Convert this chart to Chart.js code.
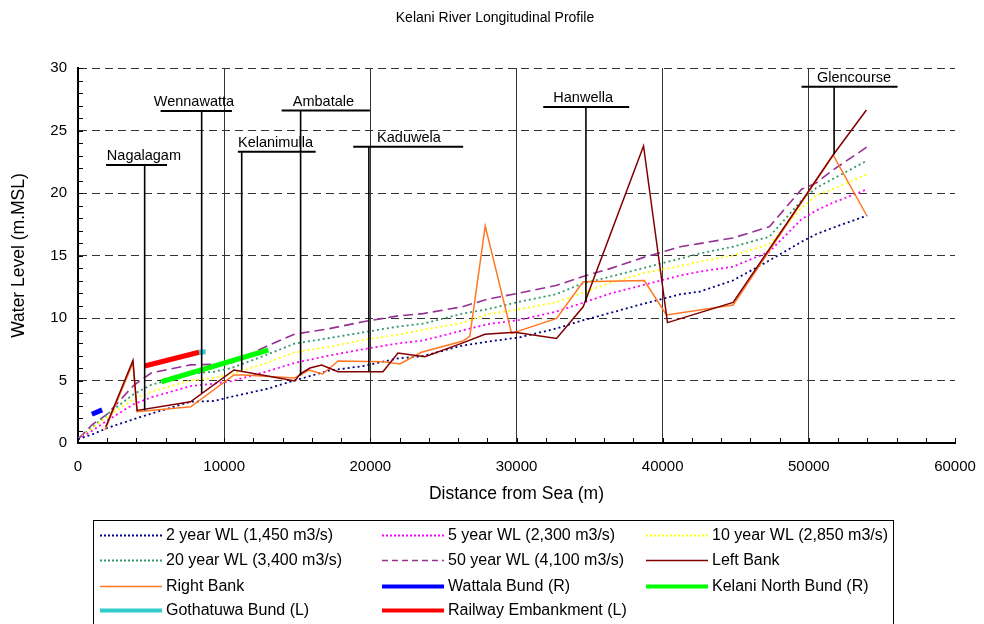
<!DOCTYPE html>
<html>
<head>
<meta charset="utf-8">
<script src="https://cdn.jsdelivr.net/npm/chart.js@4.4.0/dist/chart.umd.min.js"></script>
<style>
  html, body { margin: 0; padding: 0; background: #ffffff; }
  #wrap { width: 984px; height: 624px; }
</style>
</head>
<body>
<div id="wrap"><canvas id="profile" width="984" height="624"></canvas></div>
<script>
// Chainage (m from sea) of the modelled water-level sections
const chainageWL = [0, 1000, 2000, 3800, 5000, 7700, 9300, 10500, 13000, 14800, 17200, 19500, 21800, 23600, 26300, 28000, 30200, 32700, 34500, 36400, 38700, 41200, 42500, 44800, 47300, 49500, 50500, 51600, 54000];

// Flood water levels (m MSL) for each return period
const wl2yr  = [0.3, 0.7, 1.2, 1.9, 2.35, 3.3, 3.36, 3.7, 4.35, 5.0, 5.8, 6.15, 6.75, 6.95, 7.8, 8.1, 8.45, 9.15, 9.8, 10.4, 11.15, 11.9, 12.1, 13.0, 14.6, 16.1, 16.7, 17.2, 18.2];
const wl5yr  = [0.3, 1.0, 1.8, 3.1, 3.65, 4.55, 4.75, 4.95, 5.75, 6.4, 7.0, 7.5, 7.95, 8.2, 9.0, 9.5, 9.85, 10.5, 11.2, 11.95, 12.65, 13.4, 13.7, 14.1, 15.3, 17.9, 18.6, 19.2, 20.3];
const wl10yr = [0.3, 1.2, 2.1, 3.5, 4.1, 5.0, 5.2, 5.5, 6.45, 7.25, 7.7, 8.25, 8.65, 9.05, 9.6, 10.3, 10.7, 11.25, 12.0, 12.8, 13.6, 14.15, 14.5, 15.0, 15.9, 18.8, 19.8, 20.3, 21.5];
const wl20yr = [0.3, 1.3, 2.3, 3.9, 4.65, 5.55, 5.7, 6.0, 7.1, 7.95, 8.4, 8.85, 9.3, 9.55, 10.35, 10.7, 11.3, 11.9, 12.75, 13.3, 14.0, 14.75, 15.15, 15.7, 16.5, 19.4, 20.4, 21.1, 22.6];
const wl50yr = [0.3, 1.5, 2.3, 4.6, 5.6, 6.25, 6.3, 6.4, 7.8, 8.7, 9.15, 9.7, 10.15, 10.35, 10.9, 11.5, 12.0, 12.6, 13.3, 13.95, 14.85, 15.7, 15.95, 16.4, 17.3, 20.3, 20.8, 21.8, 23.7];

// River bank levels
const leftBankX  = [1900, 3760, 4040, 7700, 10670, 11350, 14840, 15190, 15870, 16670, 17790, 20860, 21890, 23730, 26240, 27840, 29890, 32740, 34560, 38690, 40330, 44820, 51660, 53940];
const leftBankY  = [1.3, 6.6, 2.6, 3.3, 5.84, 5.7, 4.96, 5.52, 6.0, 6.24, 5.7, 5.7, 7.2, 6.9, 7.97, 8.7, 8.85, 8.37, 10.9, 23.76, 9.63, 11.25, 23.04, 26.64];
const rightBankX = [1850, 3760, 4040, 7710, 10670, 11350, 14840, 15800, 16730, 17800, 20880, 22020, 23500, 26350, 26810, 27860, 29660, 32740, 34560, 38740, 40260, 44820, 51660, 53940];
const rightBankY = [1.04, 6.4, 2.5, 2.9, 5.44, 5.44, 5.2, 5.84, 5.52, 6.56, 6.5, 6.32, 7.26, 8.16, 8.56, 17.36, 8.77, 9.97, 12.9, 13.0, 10.24, 11.04, 23.04, 18.24];

// Flood protection works
const wattalaX = [950, 1650],   wattalaY = [2.3, 2.65];
const kelaniNorthX = [5700, 13020], kelaniNorthY = [4.9, 7.44];
const gothatuwaX = [8280, 8730], gothatuwaY = [7.26, 7.3];
const railwayX = [4560, 8280],  railwayY = [6.16, 7.26];

// Gauging / reference stations along the river
const stationNames   = ['Nagalagam', 'Wennawatta', 'Kelanimulla', 'Ambatale', 'Kaduwela', 'Hanwella', 'Glencourse'];
const stationX       = [4560, 8460, 11200, 15230, 19900, 34750, 51730];
const stationBase    = [2.6, 4.0, 5.8, 5.4, 5.7, 11.3, 23.1];
const stationTop     = [22.24, 26.56, 23.3, 26.6, 23.7, 26.88, 28.5];
const stationLineFrom = [1920, 5650, 10940, 13930, 18830, 31830, 49500];
const stationLineTo   = [6090, 10530, 16260, 19970, 26350, 37710, 56070];
const stationTextX    = [4510, 7930, 13510, 16790, 22640, 34560, 53090];

// Axis ticks
const xTicks = [0, 10000, 20000, 30000, 40000, 50000, 60000];
const yTicks = [0, 5, 10, 15, 20, 25, 30];

const chartTitle = 'Kelani River Longitudinal Profile';
const FONT = '"Liberation Sans", Arial, sans-serif';

const pts = (xs, ys) => xs.map((x, i) => ({ x: x, y: ys[i] }));

function series(label, xs, ys, color, width, dash, order, legendWidth) {
  return {
    label: label,
    data: pts(xs, ys),
    showLine: true,
    borderColor: color,
    backgroundColor: color,
    borderWidth: width,
    borderDash: dash,
    pointRadius: 0,
    pointHoverRadius: 0,
    tension: 0,
    fill: false,
    order: order,
    legendWidth: legendWidth
  };
}

const dots = [2, 3];
const datasets = [
  series('2 year WL (1,450 m3/s)',  chainageWL, wl2yr,  '#000080', 1.8, dots, 2, 2),
  series('5 year WL (2,300 m3/s)',  chainageWL, wl5yr,  '#FF00FF', 1.8, dots, 2, 2),
  series('10 year WL (2,850 m3/s)', chainageWL, wl10yr, '#FFFF00', 1.8, dots, 2, 2),
  series('20 year WL (3,400 m3/s)', chainageWL, wl20yr, '#339966', 1.8, dots, 2, 2),
  series('50 year WL (4,100 m3/s)', chainageWL, wl50yr, '#943094', 1.6, [10, 5], 2, 1.5),
  series('Left Bank',  leftBankX,  leftBankY,  '#800000', 1.5, [], 1, 1.5),
  series('Right Bank', rightBankX, rightBankY, '#FF7722', 1.5, [], 1, 1.5),
  series('Wattala Bund (R)',       wattalaX,     wattalaY,     '#0000FF', 5, [], 0, 4),
  series('Kelani North Bund (R)',  kelaniNorthX, kelaniNorthY, '#00FF00', 5, [], 0, 4),
  series('Gothatuwa Bund (L)',     gothatuwaX,   gothatuwaY,   '#33CCCC', 5, [], 0, 4),
  series('Railway Embankment (L)', railwayX,     railwayY,     '#FF0000', 5, [], 0, 4)
];

// Chart heading, centred on the page
const heading = {
  id: 'heading',
  afterDraw(chart) {
    const ctx = chart.ctx;
    ctx.save();
    ctx.fillStyle = '#000';
    ctx.font = '14px ' + FONT;
    ctx.textAlign = 'center';
    ctx.textBaseline = 'middle';
    ctx.fillText(chartTitle, 495, 18);
    ctx.restore();
  }
};

// Small inward minor ticks on both axes
const minorTicks = {
  id: 'minorTicks',
  afterDraw(chart) {
    const { ctx, chartArea: a, scales: { x, y } } = chart;
    ctx.save();
    ctx.strokeStyle = '#000';
    ctx.lineWidth = 1;
    ctx.beginPath();
    for (let v = 0; v <= 30; v += 1) {
      const py = Math.round(y.getPixelForValue(v)) + 0.5;
      ctx.moveTo(a.left, py); ctx.lineTo(a.left + 5, py);
    }
    for (let v = 0; v <= 60000; v += 2000) {
      const px = Math.round(x.getPixelForValue(v)) + 0.5;
      ctx.moveTo(px, a.bottom); ctx.lineTo(px, a.bottom - 5);
    }
    ctx.stroke();
    ctx.restore();
  }
};

// Station markers: a vertical leader from the bank up to a labelled bar
const stations = {
  id: 'stations',
  afterDatasetsDraw(chart) {
    const { ctx, scales: { x, y } } = chart;
    ctx.save();
    ctx.strokeStyle = '#000';
    ctx.fillStyle = '#000';
    stationNames.forEach((name, i) => {
      const px = x.getPixelForValue(stationX[i]);
      const yTop = y.getPixelForValue(stationTop[i]);
      ctx.lineWidth = 1.6;
      ctx.beginPath();
      ctx.moveTo(px, y.getPixelForValue(stationBase[i]));
      ctx.lineTo(px, yTop);
      ctx.stroke();
      ctx.lineWidth = 2;
      ctx.beginPath();
      ctx.moveTo(x.getPixelForValue(stationLineFrom[i]), yTop);
      ctx.lineTo(x.getPixelForValue(stationLineTo[i]), yTop);
      ctx.stroke();
      ctx.font = '14.5px ' + FONT;
      ctx.textAlign = 'center';
      ctx.textBaseline = 'alphabetic';
      ctx.fillText(name, x.getPixelForValue(stationTextX[i]), yTop - 5);
    });
    ctx.restore();
  }
};

// Boxed three-column key below the plot
const profileLegend = {
  id: 'profileLegend',
  afterDraw(chart) {
    const ctx = chart.ctx;
    const cols = [100, 382, 646];
    const rows = [535, 560, 586, 610];
    ctx.save();
    ctx.strokeStyle = '#000';
    ctx.lineWidth = 1;
    ctx.strokeRect(93.5, 520.5, 800, 130);
    chart.data.datasets.forEach((ds, i) => {
      const cx = cols[i % 3];
      const cy = rows[Math.floor(i / 3)];
      ctx.save();
      ctx.strokeStyle = ds.borderColor;
      ctx.lineWidth = ds.legendWidth;
      ctx.setLineDash(ds.borderDash && ds.borderDash.length ? (ds.borderWidth > 1.7 ? [2, 2] : [6, 4]) : []);
      ctx.beginPath();
      ctx.moveTo(cx, cy + 0.5);
      ctx.lineTo(cx + 62, cy + 0.5);
      ctx.stroke();
      ctx.restore();
      ctx.fillStyle = '#000';
      ctx.font = '16px ' + FONT;
      ctx.textAlign = 'left';
      ctx.textBaseline = 'middle';
      ctx.fillText(ds.label, cx + 66, cy + 1);
    });
    ctx.restore();
  }
};

new Chart(document.getElementById('profile'), {
  type: 'scatter',
  data: { datasets: datasets },
  plugins: [heading, minorTicks, stations, profileLegend],
  options: {
    responsive: false,
    animation: false,
    devicePixelRatio: 1,
    layout: { padding: { left: 9, right: 29, top: 68, bottom: 119 } },
    plugins: {
      legend: { display: false },
      tooltip: { enabled: false },
      title: { display: false }
    },
    scales: {
      x: {
        type: 'linear',
        min: 0, max: 60000,
        afterFit(scale) {
          scale.height = 62;
          scale.paddingLeft = 0;
          scale.paddingRight = 0;
        },
        afterBuildTicks(scale) { scale.ticks = xTicks.map(v => ({ value: v })); },
        ticks: {
          color: '#000',
          font: { family: FONT, size: 15 },
          padding: 15,
          maxRotation: 0,
          callback: v => String(v)
        },
        grid: {
          drawTicks: false,
          lineWidth: 1,
          color: c => (c.tick && c.tick.value > 0 && c.tick.value < 60000) ? '#333' : 'rgba(0,0,0,0)'
        },
        border: { display: true, color: '#000', width: 2 },
        title: {
          display: true,
          text: 'Distance from Sea (m)',
          color: '#000',
          font: { family: FONT, size: 17.5 },
          padding: 0
        }
      },
      y: {
        type: 'linear',
        min: 0, max: 30,
        afterFit(scale) {
          scale.width = 69;
          scale.paddingTop = 0;
          scale.paddingBottom = 0;
        },
        afterBuildTicks(scale) { scale.ticks = yTicks.map(v => ({ value: v })); },
        ticks: {
          color: '#000',
          font: { family: FONT, size: 15 },
          padding: 11,
          callback: v => String(v)
        },
        grid: {
          drawTicks: false,
          lineWidth: 1,
          color: c => (c.tick && c.tick.value > 0) ? '#333' : 'rgba(0,0,0,0)'
        },
        border: { display: true, color: '#000', width: 2, dash: [8, 5] },
        title: {
          display: true,
          text: 'Water Level (m.MSL)',
          color: '#000',
          font: { family: FONT, size: 17.5 },
          padding: 0
        }
      }
    }
  }
});
</script>
</body>
</html>
